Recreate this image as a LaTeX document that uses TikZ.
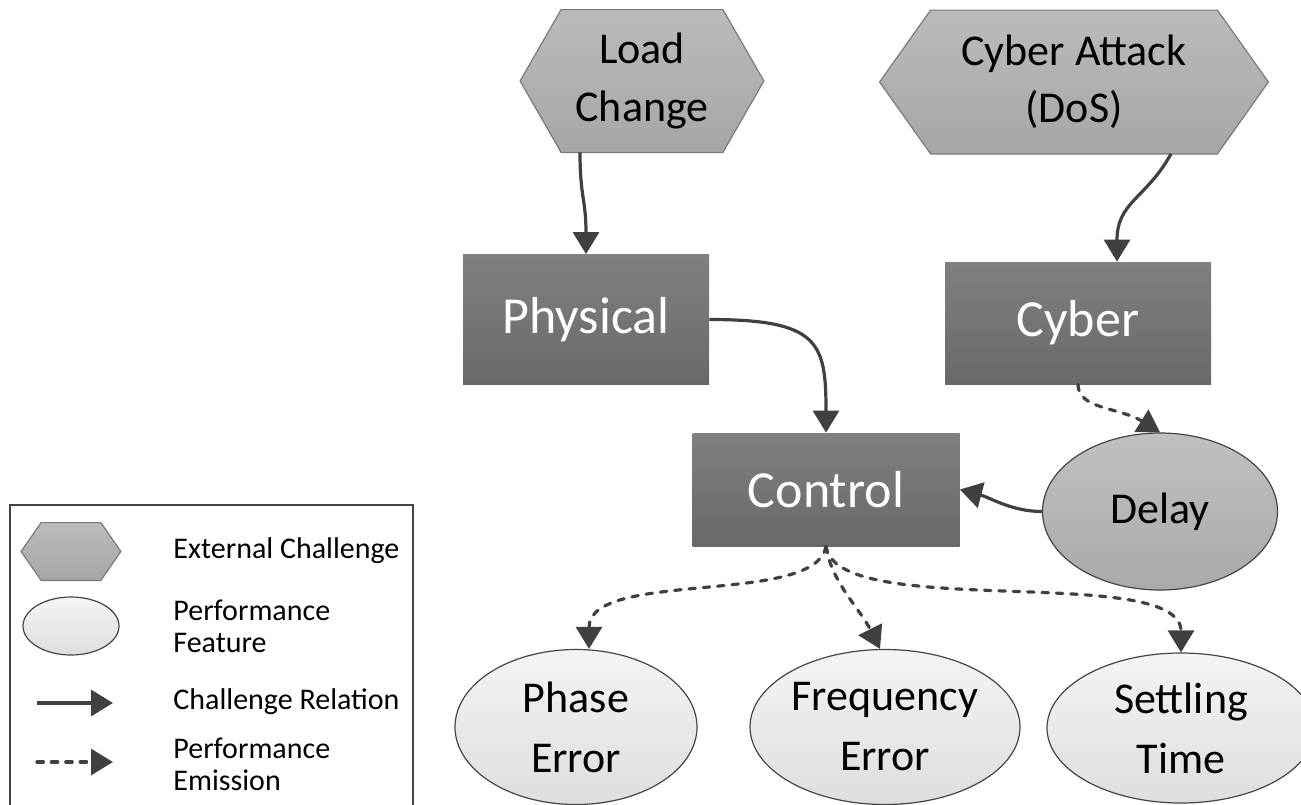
\documentclass[tikz,border=0pt]{standalone}
\usepackage{fontspec}
\setmainfont{Carlito}
\usepackage{tikz}
\usetikzlibrary{shapes,arrows.meta,backgrounds}

\definecolor{hextop}{HTML}{BBBBBB}
\definecolor{hexbot}{HTML}{A6A6A6}
\definecolor{hexdraw}{HTML}{7A7A7A}
\definecolor{boxtop}{HTML}{808080}
\definecolor{boxbot}{HTML}{696969}
\definecolor{perftop}{HTML}{F4F4F4}
\definecolor{perfbot}{HTML}{DEDEDE}
\definecolor{delaytop}{HTML}{C0C0C0}
\definecolor{delaybot}{HTML}{AAAAAA}
\definecolor{edgegray}{HTML}{454545}
\definecolor{arrowgray}{HTML}{404040}

\newcommand{\drawhex}[2]{\draw[hexline] (#1.west) -- ([xshift=#2]#1.north west) -- ([xshift=-#2]#1.north east) -- (#1.east) -- ([xshift=-#2]#1.south east) -- ([xshift=#2]#1.south west) -- cycle;}

\begin{document}
\begin{tikzpicture}[x=0.5pt,y=0.5pt,
  hexa/.style={rectangle,inner sep=0pt,align=center,font=\fontsize{22}{28.5}\selectfont},
  hexline/.style={draw=hexdraw,line width=0.6pt,top color=hextop,bottom color=hexbot},
  block/.style={rectangle,inner sep=0pt,top color=boxtop,bottom color=boxbot,text=white,font=\fontsize{26}{31}\selectfont},
  perf/.style={ellipse,inner sep=0pt,draw=edgegray,line width=0.6pt,top color=perftop,bottom color=perfbot,align=center,font=\fontsize{22}{30}\selectfont},
  legtext/.style={anchor=west,inner sep=0pt,align=left,font=\fontsize{15}{16}\selectfont},
  chal/.style={draw=arrowgray,line width=1.6pt,-{Triangle[length=11pt,width=13pt]}},
  emit/.style={chal,line cap=round,dash pattern=on 3.2pt off 4pt}]
\useasboundingbox (0,0) rectangle (1301,-804);

\node[hexa,minimum width=121.5pt,minimum height=71pt] (load) at (642,-81) {Load\\Change};
\node[hexa,minimum width=194pt,minimum height=71.5pt] (attack) at (1074,-82) {Cyber Attack\\(DoS)};
\node[block,minimum width=123pt,minimum height=65pt] (physical) at (586,-319.5) {Physical};
\node[block,minimum width=133pt,minimum height=61pt] (cyber) at (1078,-323) {Cyber};
\node[block,minimum width=133.5pt,minimum height=56.5pt] (control) at (826,-489.5) {Control};
\node[perf,top color=delaytop,bottom color=delaybot,minimum width=117.5pt,minimum height=78.5pt] (delay) at (1160,-511.5) {Delay};
\node[perf,minimum width=121pt,minimum height=77.5pt] (phase) at (576,-727) {Phase\\Error};
\node[perf,minimum width=135pt,minimum height=77.5pt] (freq) at (885,-727) {Frequency\\Error};
\node[perf,minimum width=134pt,minimum height=75pt] (settle) at (1181,-728) {Settling\\Time};

\draw[chal] ([xshift=-31pt]load.south) .. controls +(0,-45) and +(0,55) .. (physical.north);
\draw[chal] ([xshift=48.5pt]attack.south) .. controls +(-25,-45) and +(0,60) .. ([xshift=19.5pt]cyber.north);
\draw[chal] (physical.east) .. controls +(110,0) and +(0,90) .. (control.north);
\draw[emit] (cyber.south) .. controls +(0,-25) and +(-40,25) .. (delay.north);
\draw[chal] (delay.west) .. controls +(-30,0) and +(30,-8) .. (control.east);
\draw[emit] (control.south) .. controls +(-10,-60) and +(0,80) .. ([xshift=6.5pt]phase.north);
\draw[emit] (control.south) .. controls +(5,-35) and +(-20,40) .. ([xshift=-2.5pt]freq.north);
\draw[emit] (control.south) .. controls +(10,-75) and +(0,90) .. (settle.north);

\draw[draw=edgegray,line width=0.75pt] (10,-505) rectangle (413,-830);
\node[hexa,minimum width=49.5pt,minimum height=28.5pt] (lhex) at (71,-551.5) {};
\node[perf,minimum width=48pt,minimum height=29pt] (lell) at (71,-626) {};
\coordinate (lsa) at (37,-703);
\coordinate (lsb) at (113,-703);
\coordinate (lda) at (37,-762);
\coordinate (ldb) at (113,-762);
\draw[chal] (lsa) -- (lsb);
\draw[emit] (lda) -- (ldb);
\node[legtext] (lt1) at (173,-551) {External Challenge};
\node[legtext] (lt2) at (173,-626) {Performance\\Feature};
\node[legtext] (lt3) at (173,-702) {Challenge Relation};
\node[legtext] (lt4) at (173,-764) {Performance\\Emission};

\begin{scope}[on background layer]
\drawhex{load}{20.5pt}
\drawhex{attack}{25.5pt}
\drawhex{lhex}{10pt}
\end{scope}
\end{tikzpicture}
\end{document}
